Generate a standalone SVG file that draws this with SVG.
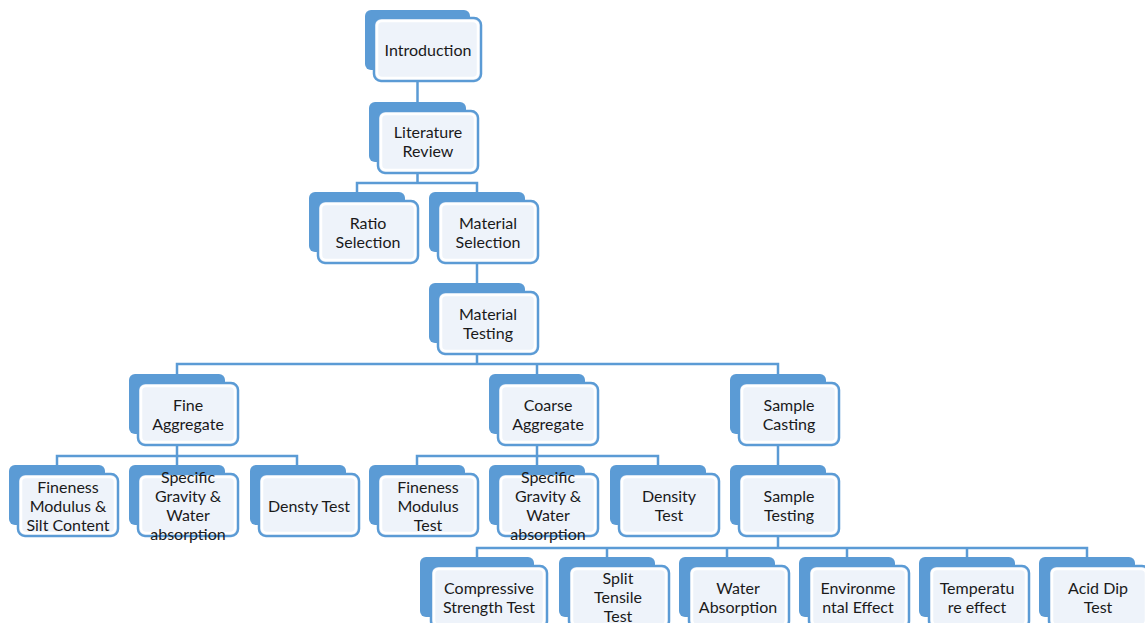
<svg xmlns="http://www.w3.org/2000/svg" width="1145" height="623" viewBox="0 0 1145 623">
<defs>
<style>
.bk{fill:#5B9BD5;}
.fr{fill:#EEF3FA;stroke:#5B9BD5;stroke-width:2.5;}
.in{fill:none;stroke:#FFFFFF;stroke-width:2.5;}
.t{font-family:Lato,"Open Sans","Liberation Sans",sans-serif;font-size:16px;fill:#1a1a1a;text-anchor:middle;dominant-baseline:central;}
.c{fill:none;stroke:#5B9BD5;stroke-width:2.5;}
</style>
</defs>
<rect width="1145" height="623" fill="#FFFFFF"/>
<g id="connectors">
<path class="c" d="M417.5,81 V102"/>
<path class="c" d="M417.5,172 V183 M357,192 V183 H477 V192"/>
<path class="c" d="M477,264 V283"/>
<path class="c" d="M477,355 V364 M177,374 V364 H778 V374 M537,364 V374"/>
<path class="c" d="M177,445 V456 M57,465 V456 H297 V465 M177,456 V465"/>
<path class="c" d="M537,445 V456 M417,465 V456 H658 V465 M537,456 V465"/>
<path class="c" d="M778,445 V465"/>
<path class="c" d="M778,537 V548 M477,557 V548 H1087 V557 M607,548 V557 M727,548 V557 M847,548 V557 M967,548 V557"/>
</g>
<g id="introduction">
<rect class="bk" x="365" y="10" width="105" height="60" rx="6"/>
<rect class="fr" x="374" y="18" width="107" height="63" rx="7"/>
<rect class="in" x="377" y="21" width="101" height="57" rx="5"/>
<text class="t" x="428" y="49.5">Introduction</text>
</g>
<g id="literature-review">
<rect class="bk" x="369" y="102" width="97" height="60" rx="6"/>
<rect class="fr" x="378" y="111" width="100" height="62" rx="7"/>
<rect class="in" x="381" y="114" width="94" height="56" rx="5"/>
<text class="t" x="428" y="131.5">Literature</text>
<text class="t" x="428" y="150.5">Review</text>
</g>
<g id="ratio-selection">
<rect class="bk" x="309" y="192" width="96" height="60" rx="6"/>
<rect class="fr" x="318" y="201" width="100" height="62" rx="7"/>
<rect class="in" x="321" y="204" width="94" height="56" rx="5"/>
<text class="t" x="368" y="222.5">Ratio</text>
<text class="t" x="368" y="241.5">Selection</text>
</g>
<g id="material-selection">
<rect class="bk" x="429" y="192" width="96" height="60" rx="6"/>
<rect class="fr" x="438" y="201" width="100" height="62" rx="7"/>
<rect class="in" x="441" y="204" width="94" height="56" rx="5"/>
<text class="t" x="488" y="222.5">Material</text>
<text class="t" x="488" y="241.5">Selection</text>
</g>
<g id="material-testing">
<rect class="bk" x="429" y="283" width="96" height="60" rx="6"/>
<rect class="fr" x="438" y="292" width="100" height="62" rx="7"/>
<rect class="in" x="441" y="295" width="94" height="56" rx="5"/>
<text class="t" x="488" y="313.5">Material</text>
<text class="t" x="488" y="332.5">Testing</text>
</g>
<g id="fine-aggregate">
<rect class="bk" x="129" y="374" width="96" height="60" rx="6"/>
<rect class="fr" x="138" y="383" width="100" height="62" rx="7"/>
<rect class="in" x="141" y="386" width="94" height="56" rx="5"/>
<text class="t" x="188" y="404.5">Fine</text>
<text class="t" x="188" y="423.5">Aggregate</text>
</g>
<g id="coarse-aggregate">
<rect class="bk" x="489" y="374" width="96" height="60" rx="6"/>
<rect class="fr" x="498" y="383" width="100" height="62" rx="7"/>
<rect class="in" x="501" y="386" width="94" height="56" rx="5"/>
<text class="t" x="548" y="404.5">Coarse</text>
<text class="t" x="548" y="423.5">Aggregate</text>
</g>
<g id="sample-casting">
<rect class="bk" x="730" y="374" width="96" height="60" rx="6"/>
<rect class="fr" x="739" y="383" width="100" height="62" rx="7"/>
<rect class="in" x="742" y="386" width="94" height="56" rx="5"/>
<text class="t" x="789" y="404.5">Sample</text>
<text class="t" x="789" y="423.5">Casting</text>
</g>
<g id="fineness-silt">
<rect class="bk" x="9" y="465" width="96" height="60" rx="6"/>
<rect class="fr" x="18" y="474" width="100" height="62" rx="7"/>
<rect class="in" x="21" y="477" width="94" height="56" rx="5"/>
<text class="t" x="68" y="486">Fineness</text>
<text class="t" x="68" y="505">Modulus &amp;</text>
<text class="t" x="68" y="524">Silt Content</text>
</g>
<g id="specific-gravity-fine">
<rect class="bk" x="129" y="465" width="96" height="60" rx="6"/>
<rect class="fr" x="138" y="474" width="100" height="62" rx="7"/>
<rect class="in" x="141" y="477" width="94" height="56" rx="5"/>
<text class="t" x="188" y="476.5">Specific</text>
<text class="t" x="188" y="495.5">Gravity &amp;</text>
<text class="t" x="188" y="514.5">Water</text>
<text class="t" x="188" y="533.5">absorption</text>
</g>
<g id="densty-test">
<rect class="bk" x="250" y="465" width="96" height="60" rx="6"/>
<rect class="fr" x="259" y="474" width="100" height="62" rx="7"/>
<rect class="in" x="262" y="477" width="94" height="56" rx="5"/>
<text class="t" x="309" y="505">Densty Test</text>
</g>
<g id="fineness-modulus-test">
<rect class="bk" x="369" y="465" width="96" height="60" rx="6"/>
<rect class="fr" x="378" y="474" width="100" height="62" rx="7"/>
<rect class="in" x="381" y="477" width="94" height="56" rx="5"/>
<text class="t" x="428" y="486">Fineness</text>
<text class="t" x="428" y="505">Modulus</text>
<text class="t" x="428" y="524">Test</text>
</g>
<g id="specific-gravity-coarse">
<rect class="bk" x="489" y="465" width="96" height="60" rx="6"/>
<rect class="fr" x="498" y="474" width="100" height="62" rx="7"/>
<rect class="in" x="501" y="477" width="94" height="56" rx="5"/>
<text class="t" x="548" y="476.5">Specific</text>
<text class="t" x="548" y="495.5">Gravity &amp;</text>
<text class="t" x="548" y="514.5">Water</text>
<text class="t" x="548" y="533.5">absorption</text>
</g>
<g id="density-test">
<rect class="bk" x="610" y="465" width="96" height="60" rx="6"/>
<rect class="fr" x="619" y="474" width="100" height="62" rx="7"/>
<rect class="in" x="622" y="477" width="94" height="56" rx="5"/>
<text class="t" x="669" y="495.5">Density</text>
<text class="t" x="669" y="514.5">Test</text>
</g>
<g id="sample-testing">
<rect class="bk" x="730" y="465" width="96" height="60" rx="6"/>
<rect class="fr" x="739" y="474" width="100" height="62" rx="7"/>
<rect class="in" x="742" y="477" width="94" height="56" rx="5"/>
<text class="t" x="789" y="495.5">Sample</text>
<text class="t" x="789" y="514.5">Testing</text>
</g>
<g id="compressive-strength-test">
<rect class="bk" x="420" y="557" width="114" height="60" rx="6"/>
<rect class="fr" x="431" y="566" width="116" height="62" rx="7"/>
<rect class="in" x="434" y="569" width="110" height="56" rx="5"/>
<text class="t" x="489" y="587">Compressive</text>
<text class="t" x="489" y="606">Strength Test</text>
</g>
<g id="split-tensile-test">
<rect class="bk" x="559" y="557" width="96" height="60" rx="6"/>
<rect class="fr" x="569" y="566" width="100" height="62" rx="7"/>
<rect class="in" x="572" y="569" width="94" height="56" rx="5"/>
<text class="t" x="618" y="577">Split</text>
<text class="t" x="618" y="596">Tensile</text>
<text class="t" x="618" y="615">Test</text>
</g>
<g id="water-absorption">
<rect class="bk" x="679" y="557" width="96" height="60" rx="6"/>
<rect class="fr" x="689" y="566" width="100" height="62" rx="7"/>
<rect class="in" x="692" y="569" width="94" height="56" rx="5"/>
<text class="t" x="738" y="587">Water</text>
<text class="t" x="738" y="606">Absorption</text>
</g>
<g id="environmental-effect">
<rect class="bk" x="799" y="557" width="96" height="60" rx="6"/>
<rect class="fr" x="809" y="566" width="100" height="62" rx="7"/>
<rect class="in" x="812" y="569" width="94" height="56" rx="5"/>
<text class="t" x="858" y="587">Environme</text>
<text class="t" x="858" y="606">ntal Effect</text>
</g>
<g id="temperature-effect">
<rect class="bk" x="919" y="557" width="96" height="60" rx="6"/>
<rect class="fr" x="929" y="566" width="100" height="62" rx="7"/>
<rect class="in" x="932" y="569" width="94" height="56" rx="5"/>
<text class="t" x="977" y="587">Temperatu</text>
<text class="t" x="977" y="606">re effect</text>
</g>
<g id="acid-dip-test">
<rect class="bk" x="1039" y="557" width="96" height="60" rx="6"/>
<rect class="fr" x="1049" y="566" width="100" height="62" rx="7"/>
<rect class="in" x="1052" y="569" width="94" height="56" rx="5"/>
<text class="t" x="1098" y="587">Acid Dip</text>
<text class="t" x="1098" y="606">Test</text>
</g>
</svg>
